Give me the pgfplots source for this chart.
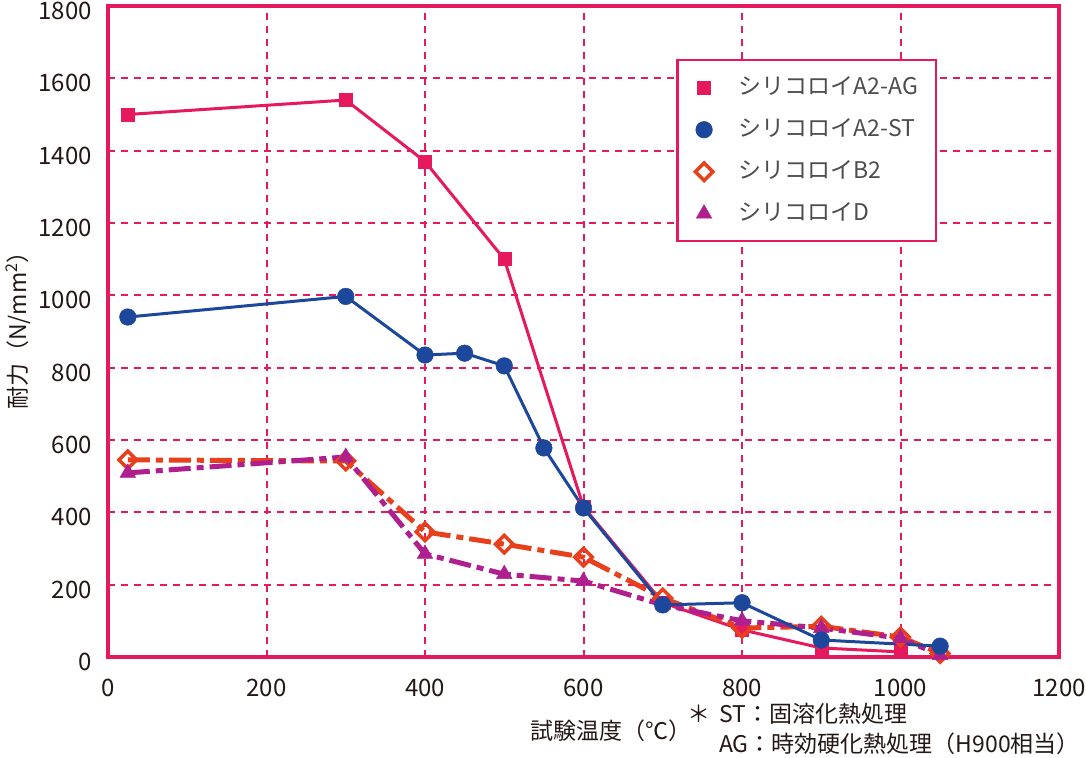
\documentclass[border=0pt]{standalone}
\usepackage{fontspec}
\setmainfont{Noto Sans CJK JP}
\usepackage{pgfplots}
\pgfplotsset{compat=1.18}
\definecolor{cpink}{HTML}{E6195F}
\definecolor{cblue}{HTML}{1D479B}
\definecolor{corange}{HTML}{E8401C}
\definecolor{cpurple}{HTML}{B01F8E}
\definecolor{ctext}{HTML}{231815}
\definecolor{cgray}{HTML}{4D4D4D}
\begin{document}
\begin{tikzpicture}
\useasboundingbox (-108pt,-100pt) rectangle (978pt,657pt);
\begin{axis}[
  scale only axis, width=951pt, height=651pt,
  xmin=0, xmax=1200, ymin=0, ymax=1800,
  xtick={0,200,...,1200}, ytick={0,200,...,1800},
  grid=major,
  major grid style={cpink, line width=2pt, dash pattern=on 7pt off 6pt},
  axis line style={cpink, line width=3.5pt},
  major tick length=0pt,
  tick style={draw=none},
  ticklabel style={font=\fontsize{24}{29}\selectfont, text=ctext},
  /pgf/number format/assume math mode=true,
  /pgf/number format/1000 sep={},
  xticklabel style={inner sep=0pt, yshift=-22pt},
  yticklabel style={inner sep=0pt, text height=17pt, text depth=0pt, xshift=-16pt, yshift=-5pt},
  legend style={at={(0.5973,0.9186)}, anchor=north west, draw=cpink, line width=2.5pt,
    fill=white, font=\fontsize{23}{28}\selectfont, text=cgray,
    inner xsep=18pt, inner ysep=16pt, row sep=19pt, column sep=26pt,
    nodes={inner sep=0pt, text height=18pt, text depth=5pt},
    cells={anchor=west}},
]
\addlegendimage{only marks, mark=square*, color=cpink, mark size=6.5pt, line width=0.5pt}
\addlegendentry{シリコロイA2-AG}
\addlegendimage{only marks, mark=*, color=cblue, mark size=8.3pt, line width=0.5pt}
\addlegendentry{シリコロイA2-ST}
\addlegendimage{only marks, mark=square, color=corange, mark size=6.2pt, line width=3.5pt, mark options={rotate=45, fill=white}}
\addlegendentry{シリコロイB2}
\addlegendimage{only marks, mark=triangle*, color=cpurple, mark size=9pt, line width=0.5pt}
\addlegendentry{シリコロイD}

% A2-AG
\addplot[forget plot, cpink, line width=3pt, mark=square*, mark size=6.5pt,
  mark options={solid, line width=0.5pt}] coordinates {
  (25,1500) (300,1540) (400,1370) (500,1100) (600,415) (700,150) (800,75) (900,25) (1000,14)};
% B2
\addplot[forget plot, corange, line width=5pt, dash pattern=on 22pt off 6pt on 7pt off 6pt,
  mark=square, mark size=6.2pt,
  mark options={solid, rotate=45, line width=3.5pt, fill=white}] coordinates {
  (25,545) (300,542) (400,346) (500,312) (600,276) (700,163) (800,80) (900,85) (1000,55) (1050,10)};
% D
\addplot[forget plot, cpurple, line width=5pt, dash pattern=on 22pt off 6pt on 7pt off 6pt,
  mark=triangle*, mark size=9pt,
  mark options={solid, line width=0.5pt}] coordinates {
  (25,509) (300,553) (400,285) (500,229) (600,210) (700,144) (800,100) (900,80) (1000,52) (1050,5)};
% A2-ST
\addplot[forget plot, cblue, line width=3pt, mark=*, mark size=8.3pt,
  mark options={solid, line width=0.5pt}] coordinates {
  (25,940) (300,997) (400,835) (450,840) (500,805) (550,578) (600,412) (700,144) (800,150) (900,47) (1050,30)};
\end{axis}
\node[rotate=90, font=\fontsize{23}{28}\selectfont, text=ctext] at (-90pt,332pt) {耐力（N/mm\textsuperscript{2}）};
\node[anchor=west, inner sep=0pt, font=\fontsize{23}{28}\selectfont, text=ctext] at (422pt,-74pt) {試験温度（℃）};
\node[anchor=west, inner sep=0pt, font=\fontsize{23}{28}\selectfont, text=ctext] at (579pt,-57pt) {＊};
\node[anchor=west, inner sep=0pt, font=\fontsize{23}{28}\selectfont, text=ctext] at (611pt,-57pt) {ST：固溶化熱処理};
\node[anchor=west, inner sep=0pt, font=\fontsize{23}{28}\selectfont, text=ctext] at (611pt,-87pt) {AG：時効硬化熱処理（H900相当）};
\end{tikzpicture}
\end{document}
